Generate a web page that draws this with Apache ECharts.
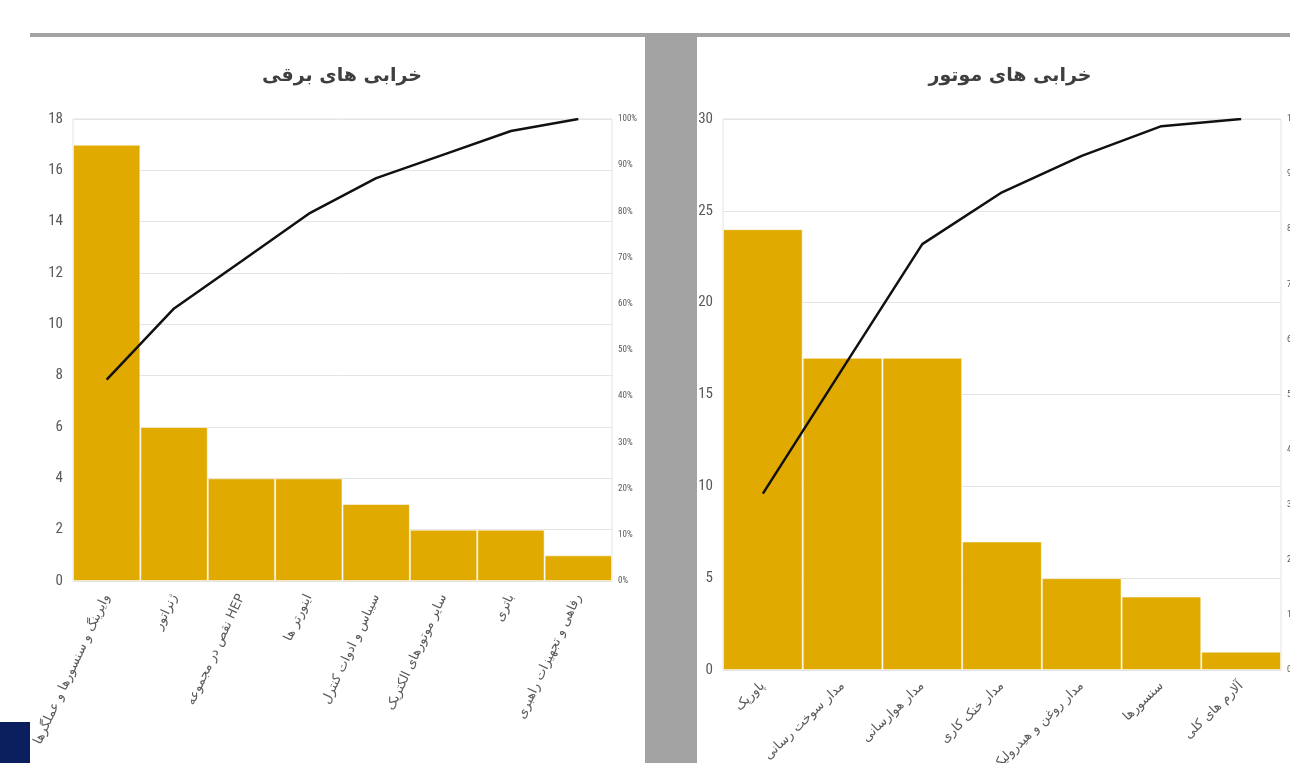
<!DOCTYPE html>
<html>
<head>
<meta charset="utf-8">
<script src="https://cdn.jsdelivr.net/npm/echarts@6/dist/echarts.min.js"></script>
<style>
html,body{margin:0;padding:0;background:#fff;}
#chart{width:1290px;height:763px;}
</style>
</head>
<body>
<div id="chart"></div>
<script>
// ---- data ----
const leftTitle = 'خرابی های برقی';
const leftCategories = ['وایرینگ و سنسورها و عملگرها', 'ژنراتور', 'نقص در مجموعه HEP', 'اینورتر ها', 'سیباس و ادوات کنترل', 'سایر موتورهای الکتریک', 'باتری', 'رفاهی و تجهیزات راهبری'];
const leftCounts = [17, 6, 4, 4, 3, 2, 2, 1];
const leftCumPct = [43.6, 59.0, 69.2, 79.5, 87.2, 92.3, 97.4, 100];

const rightTitle = 'خرابی های موتور';
const rightCategories = ['پاورپک', 'مدار سوخت رسانی', 'مدار هوارسانی', 'مدار خنک کاری', 'مدار روغن و هیدرولیک', 'سنسورها', 'آلارم های کلی'];
const rightCounts = [24, 17, 17, 7, 5, 4, 1];
const rightCumPct = [32.0, 54.7, 77.3, 86.7, 93.3, 98.7, 100];

const leftCountTicks = {min: 0, max: 18, interval: 2};
const rightCountTicks = {min: 0, max: 30, interval: 5};
const pctTicks = {min: 0, max: 100, interval: 10};

// ---- styles ----
const barColor = '#E0AA00';
const gridColor = '#e4e4e4';
const txt = '#595959';
const numFont = "'Liberation Sans Narrow', 'Roboto Condensed', 'Liberation Sans', sans-serif";
const faFont = "'DejaVu Sans', sans-serif";

const chart = echarts.init(document.getElementById('chart'), null, {renderer: 'canvas'});

function catAxis(gridIndex, cats, rotate, fs) {
  return {
    type: 'category', gridIndex, data: cats,
    axisLine: {show: true, lineStyle: {color: gridColor}},
    axisTick: {show: false},
    axisLabel: {interval: 0, rotate, color: txt, fontSize: fs, fontFamily: faFont, margin: 14}
  };
}
function countAxis(gridIndex, t) {
  return {
    type: 'value', gridIndex, position: 'left', min: t.min, max: t.max, interval: t.interval,
    axisLine: {show: false}, axisTick: {show: false},
    axisLabel: {color: txt, fontSize: 15, fontFamily: numFont, margin: 10},
    splitLine: {show: true, lineStyle: {color: gridColor, width: 1}}
  };
}
function pctAxis(gridIndex, fs) {
  return {
    type: 'value', gridIndex, position: 'right', min: pctTicks.min, max: pctTicks.max, interval: pctTicks.interval,
    axisLine: {show: false}, axisTick: {show: false},
    axisLabel: {color: txt, fontSize: fs, fontFamily: numFont, margin: 6, formatter: '{value}%'},
    splitLine: {show: false}
  };
}

const option = {
  backgroundColor: '#ffffff',
  animation: false,
  graphic: [
    {type: 'rect', shape: {x: 30, y: 33, width: 1260, height: 4}, style: {fill: '#a3a3a3'}, silent: true},
    {type: 'rect', shape: {x: 645, y: 33, width: 52, height: 730}, style: {fill: '#a3a3a3'}, silent: true},
    {type: 'rect', shape: {x: 0, y: 722, width: 30, height: 41}, style: {fill: '#0b1f5e'}, silent: true}
  ],
  title: [
    {text: leftTitle, left: 337, top: 62, textAlign: 'center',
      textStyle: {fontSize: 19, fontWeight: 'bold', color: '#3f3f3f', fontFamily: faFont}},
    {text: rightTitle, left: 1005, top: 62, textAlign: 'center',
      textStyle: {fontSize: 19, fontWeight: 'bold', color: '#3f3f3f', fontFamily: faFont}}
  ],
  grid: [
    {left: 73, top: 119, width: 539, height: 462, outerBoundsMode: 'none', containLabel: false,
      show: true, borderColor: gridColor, borderWidth: 1, backgroundColor: 'transparent'},
    {left: 723, top: 119, width: 558, height: 551, outerBoundsMode: 'none', containLabel: false,
      show: true, borderColor: gridColor, borderWidth: 1, backgroundColor: 'transparent'}
  ],
  xAxis: [
    catAxis(0, leftCategories, 65, 13),
    catAxis(1, rightCategories, 44, 13)
  ],
  yAxis: [
    countAxis(0, leftCountTicks),
    pctAxis(0, 9),
    countAxis(1, rightCountTicks),
    pctAxis(1, 9)
  ],
  series: [
    {type: 'bar', xAxisIndex: 0, yAxisIndex: 0, data: leftCounts, barCategoryGap: '0%',
      itemStyle: {color: barColor, borderColor: 'rgba(255,255,255,0.55)', borderWidth: 1}},
    {type: 'line', xAxisIndex: 0, yAxisIndex: 1, data: leftCumPct, symbol: 'none',
      lineStyle: {color: '#111', width: 2.5}},
    {type: 'bar', xAxisIndex: 1, yAxisIndex: 2, data: rightCounts, barCategoryGap: '0%',
      itemStyle: {color: barColor, borderColor: 'rgba(255,255,255,0.55)', borderWidth: 1}},
    {type: 'line', xAxisIndex: 1, yAxisIndex: 3, data: rightCumPct, symbol: 'none',
      lineStyle: {color: '#111', width: 2.5}}
  ]
};
chart.setOption(option);
</script>
</body>
</html>
